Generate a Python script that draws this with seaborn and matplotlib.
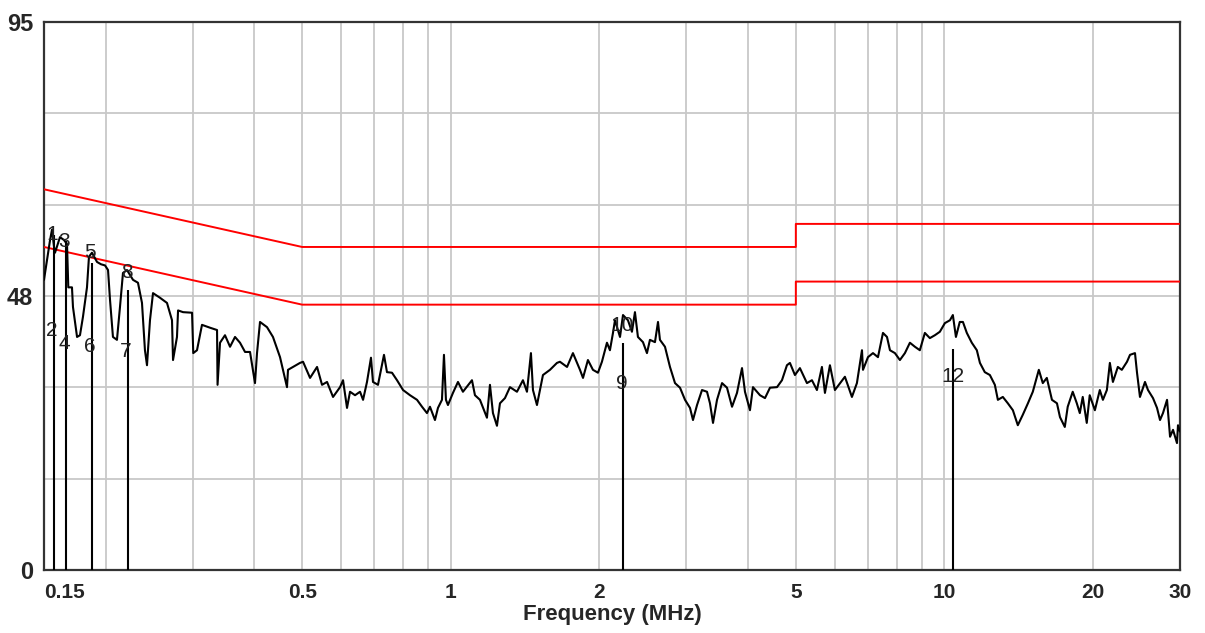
import numpy as np
import pandas as pd
import seaborn as sns
import matplotlib.pyplot as plt
from matplotlib.ticker import FixedLocator, FixedFormatter, NullLocator

freq = [0.150, 0.1520, 0.1543, 0.1557, 0.1572, 0.1579, 0.1616, 0.1647, 0.1670, 0.1680,
        0.1709, 0.1717, 0.1750, 0.1774, 0.1799, 0.1833, 0.1850, 0.1876, 0.1921, 0.1957,
        0.1994, 0.2022, 0.2041, 0.2069, 0.2108, 0.2138, 0.2168, 0.2209, 0.2272, 0.2325,
        0.2369, 0.2402, 0.2425, 0.2459, 0.2494, 0.2576, 0.2662, 0.2725, 0.2738, 0.2789,
        0.2803, 0.2869, 0.2992, 0.3009, 0.3062, 0.3134, 0.3254, 0.3362, 0.3370, 0.3409,
        0.3489, 0.3572, 0.3656, 0.3742, 0.3831, 0.3921, 0.4013, 0.4051, 0.4108, 0.4244,
        0.4364, 0.4510, 0.4659, 0.4681, 0.4791, 0.4950,
        0.5021, 0.5188, 0.5360, 0.5486, 0.5616, 0.5775, 0.5967, 0.6051, 0.6164, 0.6251,
        0.6399, 0.6550, 0.6643, 0.6766, 0.6893, 0.6958, 0.7122, 0.7324, 0.7427, 0.7603,
        0.7783, 0.8005, 0.8269, 0.8544, 0.8746, 0.8950, 0.9076, 0.9290, 0.9421, 0.9598,
        0.9688, 0.9778, 0.9870, 1.0103, 1.0342, 1.0585, 1.1040, 1.1195, 1.1459, 1.1839,
        1.2006, 1.2175, 1.2405, 1.2580, 1.2876, 1.3180, 1.3618, 1.4003, 1.4268, 1.4535,
        1.4673, 1.4949, 1.5373, 1.5884, 1.6410,
        1.664, 1.720, 1.768, 1.827, 1.853, 1.896, 1.941, 1.987, 2.024, 2.072,
        2.101, 2.131, 2.151, 2.202, 2.233, 2.285, 2.328, 2.361, 2.394, 2.451,
        2.497, 2.532, 2.592, 2.629, 2.653, 2.716, 2.780, 2.846, 2.913, 2.982,
        3.052, 3.095, 3.154, 3.228, 3.304, 3.350, 3.398, 3.462, 3.544, 3.627,
        3.713, 3.800, 3.890, 3.944, 4.037, 4.094, 4.230, 4.330, 4.432, 4.580,
        4.687, 4.797, 4.864, 4.979, 5.096, 5.266, 5.390, 5.517, 5.647, 5.727,
        5.862, 6.000,
        6.286, 6.495, 6.648, 6.807, 6.839, 7.000, 7.165, 7.334, 7.507, 7.649,
        7.756, 7.937, 8.124, 8.316, 8.512, 8.713, 8.916, 9.127, 9.342, 9.563,
        9.788, 10.02, 10.26, 10.40, 10.55, 10.74, 10.90, 11.10, 11.36, 11.63,
        11.80, 12.07, 12.36, 12.65, 12.83, 13.13, 13.44, 13.76, 14.08, 14.41,
        14.76, 15.10, 15.53, 15.82, 16.12, 16.51, 16.90, 17.14,
        17.53, 17.77, 18.19, 18.54, 18.80, 19.06, 19.42, 19.69, 20.17, 20.64,
        20.94, 21.33, 21.63, 21.94, 22.45, 22.87, 23.43, 23.76, 24.32, 24.55,
        24.89, 25.48, 25.84, 26.45, 26.95, 27.33, 27.71, 28.24, 28.64, 29.04,
        29.58, 29.72, 30.00]

level = [50.3, 53.5, 57.2, 59.0, 56.0, 55.0, 57.7, 57.2, 56.5, 49.0,
         49.0, 45.6, 40.4, 40.7, 43.9, 49.0, 54.3, 55.0, 53.4, 53.0,
         52.8, 52.0, 46.8, 40.4, 39.9, 45.6, 51.5, 52.0, 50.3, 49.8,
         46.3, 38.1, 35.5, 43.3, 48.0, 47.2, 46.3, 43.3, 36.4, 40.4,
         45.0, 44.7, 44.6, 37.6, 38.1, 42.5, 42.0, 41.6, 32.1, 39.4,
         40.7, 38.7, 40.4, 39.4, 37.8, 37.8, 32.4, 37.6, 43.0, 42.1,
         40.4, 36.9, 31.7, 34.7, 35.2, 35.9,
         36.1, 33.3, 35.2, 32.1, 32.6, 30.0, 31.7, 32.9, 28.1, 30.9,
         30.3, 30.9, 29.5, 32.6, 36.8, 32.6, 32.1, 37.3, 34.3, 34.2,
         32.9, 31.2, 30.3, 29.5, 28.3, 27.2, 28.3, 26.0, 28.1, 29.5,
         37.3, 29.5, 28.6, 30.7, 32.6, 30.9, 32.9, 30.3, 29.5, 26.4,
         32.1, 27.2, 25.0, 28.9, 29.8, 31.7, 30.9, 32.9, 30.9, 37.6,
         31.2, 28.6, 33.8, 34.7, 35.9,
         36.1, 35.2, 37.6, 34.7, 33.3, 36.4, 34.7, 34.2, 36.1, 39.4,
         38.1, 41.1, 43.3, 40.4, 44.2, 43.3, 41.3, 44.7, 40.4, 39.5,
         37.6, 39.9, 39.5, 43.0, 39.9, 38.7, 35.2, 32.4, 31.6, 29.5,
         28.1, 26.0, 28.6, 31.2, 30.9, 28.9, 25.5, 29.5, 32.4, 31.6,
         28.3, 30.7, 35.0, 30.9, 27.7, 31.7, 30.3, 29.8, 31.6, 31.7,
         32.9, 35.5, 35.9, 33.8, 35.0, 32.4, 32.9, 31.2, 35.2, 30.7,
         35.5, 31.2,
         33.5, 30.0, 32.4, 38.1, 34.7, 36.9, 37.6, 36.9, 41.1, 40.4,
         38.1, 37.6, 36.4, 37.6, 39.4, 38.7, 38.1, 41.1, 40.2, 40.7,
         41.3, 42.8, 43.3, 44.2, 40.4, 43.0, 43.0, 41.1, 39.4, 38.1,
         35.9, 34.3, 33.8, 32.1, 29.5, 30.0, 28.9, 27.7, 25.1, 26.9,
         28.9, 30.9, 34.7, 32.4, 33.3, 29.5, 28.9, 26.5,
         24.8, 28.3, 30.9, 28.9, 27.2, 30.0, 25.5, 30.3, 27.7, 31.2,
         29.5, 31.2, 35.9, 32.6, 35.2, 34.7, 36.1, 37.3, 37.6, 34.2,
         30.0, 32.6, 31.2, 29.8, 28.1, 26.0, 27.2, 29.5, 23.1, 24.3,
         22.0, 25.1, 24.0]

# limit lines
limit_freq = [0.15, 0.5, 5, 5, 30]
qp_limit = [66, 56, 56, 60, 60]
av_limit = [56, 46, 46, 50, 50]

# marker stems
marker_freq = [0.1572, 0.1659, 0.1874, 0.2216, 2.233, 10.40]
marker_level = [58.0, 57.0, 53.2, 48.5, 39.3, 38.3]

# marker numbers (11 sits inside the trace and can't be seen)
label_text = ["1", "2", "3", "4", "5", "6", "7", "8", "9", "10", "12"]
label_freq = [0.1557, 0.1557, 0.1647, 0.1647, 0.1859, 0.1859,
              0.2200, 0.2209, 2.225, 2.225, 10.40]
label_level = [58.1, 41.6, 57.0, 39.3, 55.0, 38.7,
               37.8, 51.5, 32.4, 42.3, 33.5]

x_grid = [0.15, 0.2, 0.3, 0.4, 0.5, 0.6, 0.7, 0.8, 0.9, 1, 2, 3, 4, 5,
          6, 7, 8, 9, 10, 20, 30]
x_names = {0.15: "0.15", 0.5: "0.5", 1: "1", 2: "2", 5: "5", 10: "10",
           20: "20", 30: "30"}
y_grid = list(np.linspace(0, 95, 7))
y_names = ["0", "", "", "48", "", "", "95"]

sns.set_style("white")
plt.rcParams['font.family'] = ['Liberation Sans', 'DejaVu Sans']

fig = plt.figure(figsize=(12.05, 6.33), dpi=100)
ax = fig.add_axes([44 / 1205, 1 - 570 / 633, 1136 / 1205, 548 / 633])

df = pd.DataFrame({'freq': freq, 'level': level})
lim = pd.DataFrame({'freq': limit_freq, 'qp': qp_limit, 'av': av_limit})

sns.lineplot(data=lim, x='freq', y='qp', ax=ax, color='#ff0000', lw=1.4,
             sort=False, estimator=None, zorder=3)
sns.lineplot(data=lim, x='freq', y='av', ax=ax, color='#ff0000', lw=1.4,
             sort=False, estimator=None, zorder=3)

for t, f, l in zip(label_text, label_freq, label_level):
    ax.text(f, l, t, ha='center', va='center', fontsize=15, color='#222222',
            zorder=5)

sns.lineplot(data=df, x='freq', y='level', ax=ax, color='black', lw=1.5,
             sort=False, estimator=None, zorder=4)

ax.vlines(marker_freq, 0, marker_level, color='black', lw=1.5, zorder=4)

ax.set_xscale('log')
ax.set_xlim(0.15, 30)
ax.set_ylim(0, 95)

ax.xaxis.set_major_locator(FixedLocator(x_grid))
ax.xaxis.set_major_formatter(FixedFormatter([x_names.get(v, "") for v in x_grid]))
ax.xaxis.set_minor_locator(NullLocator())
ax.yaxis.set_major_locator(FixedLocator(y_grid))
ax.yaxis.set_major_formatter(FixedFormatter(y_names))

ax.grid(True, color='#c8c8c8', lw=1.3, zorder=0)
ax.set_axisbelow(True)
ax.tick_params(axis='x', length=0, pad=9, labelsize=15)
ax.tick_params(axis='y', length=0, pad=8, labelsize=17)
for lab in ax.get_xticklabels() + ax.get_yticklabels():
    lab.set_fontweight('bold')
ax.get_xticklabels()[0].set_horizontalalignment('left')

for s in ax.spines.values():
    s.set_color('#333333')
    s.set_linewidth(1.6)

ax.set_xlabel('Frequency (MHz)', fontsize=16, fontweight='bold', labelpad=2)
ax.set_ylabel('')

fig.savefig('out.png', dpi=100)
